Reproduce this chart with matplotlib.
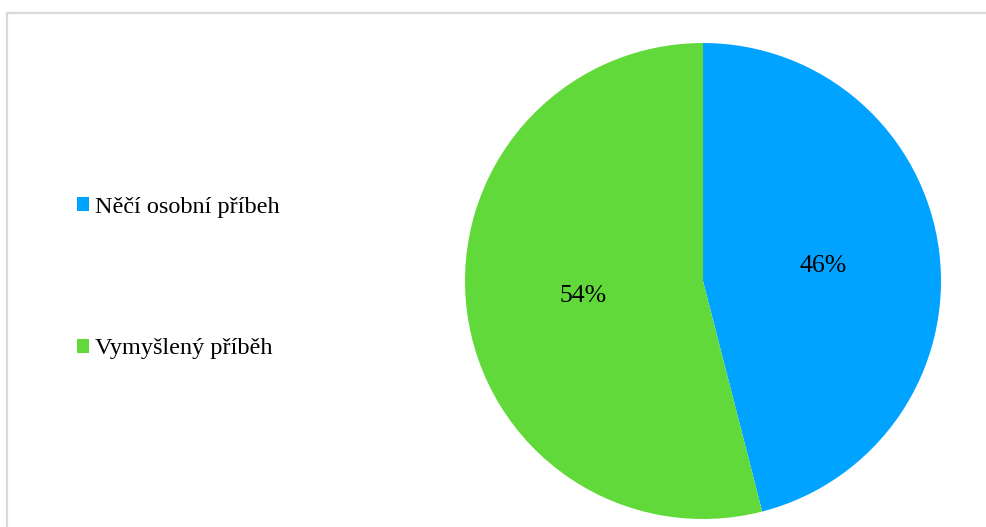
import matplotlib.pyplot as plt
from matplotlib.lines import Line2D

labels = ['Něčí osobní příbeh', 'Vymyšlený příběh']
values = [46, 54]
colors = ['#00A3FF', '#62D93A']

W, H = 987, 527
fig = plt.figure(figsize=(W / 100, H / 100), dpi=100)
plt.rcParams['font.family'] = ['Liberation Serif', 'DejaVu Serif']

# pie axes: centre (703, 281) px, radius 238 px
cx, cy, r = 703, 281, 238
ax = fig.add_axes([(cx - r) / W, (H - cy - r) / H, 2 * r / W, 2 * r / H])
wedges, texts, autotexts = ax.pie(values, colors=colors, startangle=90, counterclock=False,
                                  autopct='%.0f%%', pctdistance=0.51,
                                  textprops={'fontsize': 18.5, 'color': 'black'},
                                  wedgeprops={'linewidth': 0})
ax.set_xlim(-1, 1)
ax.set_ylim(-1, 1)
ax.set_aspect('equal')
ax.axis('off')

leg = fig.legend(wedges, labels, loc='upper left',
                 bbox_to_anchor=(77 / W, 1 - 197 / H), frameon=False,
                 fontsize=17.5, handlelength=0.5, handleheight=0.5,
                 handletextpad=0.25, labelspacing=4.95,
                 borderpad=0, borderaxespad=0)

# thin grey frame on top and left
fig.add_artist(Line2D([7.5 / W, 1], [1 - 12.5 / H, 1 - 12.5 / H], color='#d9d9d9', lw=1.6))
fig.add_artist(Line2D([7.5 / W, 7.5 / W], [0, 1 - 12.5 / H], color='#d9d9d9', lw=1.6))

fig.savefig('out.png', dpi=100)
